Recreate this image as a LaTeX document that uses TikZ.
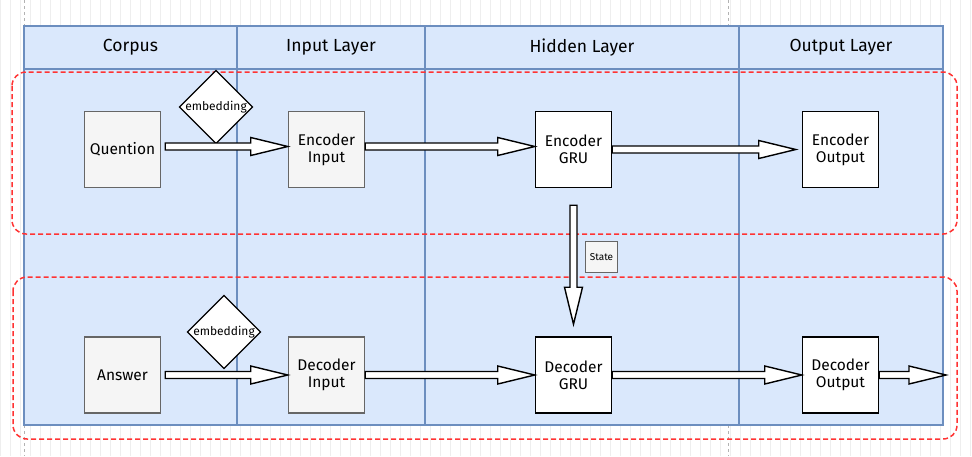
\documentclass[tikz,border=0pt]{standalone}
\usepackage{fontspec}
\setmainfont{Fira Sans}
\usetikzlibrary{calc}
\usetikzlibrary{shapes.geometric}

\definecolor{poolblue}{HTML}{DAE8FC}
\definecolor{poolline}{HTML}{6C8EBF}
\definecolor{dashred}{HTML}{FF3333}
\definecolor{boxgray}{HTML}{F5F5F5}
\definecolor{boxline}{HTML}{666666}
\definecolor{gridgray}{HTML}{EEEEEE}

\newcommand{\blockarrow}[2]{%
    \coordinate (h) at ($(#2)!37pt!(#1)$);
    \draw[bigarrow] ($(#1)!3.5pt!90:(#2)$) -- ($(h)!3.5pt!90:(#2)$)
        -- ($(h)!9pt!90:(#2)$) -- (#2) -- ($(h)!9pt!-90:(#2)$)
        -- ($(h)!3.5pt!-90:(#2)$) -- ($(#1)!3.5pt!-90:(#2)$) -- cycle;
}

\begin{document}
\begin{tikzpicture}[x=1pt, y=-1pt, font=\fontsize{15.5}{17}\selectfont,
    graybox/.style={draw=boxline, fill=boxgray, line width=1.5pt, minimum size=76pt, inner sep=0pt, align=center},
    whitebox/.style={draw=black, fill=white, line width=1.5pt, minimum size=76pt, inner sep=0pt, align=center},
    embed/.style={diamond, draw=black, fill=white, line width=1.2pt, inner sep=0pt, font=\fontsize{12}{13}\selectfont},
    bigarrow/.style={draw=black, fill=white, line width=1.4pt, line join=miter},
    group/.style={draw=dashred, line width=1.5pt, dash pattern=on 5pt off 3pt, rounded corners=14pt},
    lane/.style={draw=poolline, line width=1.6pt},
    head/.style={font=\fontsize{17.5}{19}\selectfont}]

    \useasboundingbox (0,0) rectangle (972,456);

    \draw[gridgray, step=10] (0,0) grid (972,456);
    \draw[gray!60, dashed, thin] (24,0) -- (24,26) (24,425) -- (24,456);
    \draw[gray!60, dashed, thin] (728,0) -- (728,26) (728,425) -- (728,456);

    % pool and lanes
    \filldraw[fill=poolblue, lane] (24,26) rectangle (943,425);
    \draw[lane] (24,69) -- (943,69);
    \foreach \x in {237,425,739}
        \draw[lane] (\x,26) -- (\x,425);

    \node[head] (corpus) at (130.5,47.5) {Corpus};
    \node[head] (inlayer) at (331,47.5) {Input Layer};
    \node[head] (hidlayer) at (582,47.5) {Hidden Layer};
    \node[head] (outlayer) at (841,47.5) {Output Layer};

    \draw[group] (12,72) rectangle (957,234);
    \draw[group] (13,277) rectangle (957,439);

    % encoder row
    \node[graybox] (q) at (122.5,149.5) {Quention};
    \node[graybox] (ein) at (326.5,149.5) {Encoder\\Input};
    \node[whitebox] (egru) at (573.5,149.5) {Encoder\\GRU};
    \node[whitebox] (eout) at (840.5,149.5) {Encoder\\Output};
    \node[embed, minimum size=68pt] (qemb) at (216,107) {embedding};

    % decoder row
    \node[graybox] (a) at (122.5,375) {Answer};
    \node[graybox] (din) at (326.5,375) {Decoder\\Input};
    \node[whitebox] (dgru) at (573.5,375) {Decoder\\GRU};
    \node[whitebox] (dout) at (840.5,375) {Decoder\\Output};
    \node[embed, minimum size=68pt] (aemb) at (224,332) {embedding};

    \node[draw=boxline, fill=boxgray, line width=1.2pt, minimum width=32pt, minimum height=31pt,
        inner sep=0pt, font=\fontsize{10}{11}\selectfont] (state) at (601.5,257) {State};

    \coordinate (s1) at ($(egru.south)+(0,17)$);
    \coordinate (s2) at ($(dgru.north)+(0,-12)$);
    \coordinate (q1) at ($(q.east)+(4,-3)$);
    \coordinate (q2) at ($(ein.west)+(0,-3)$);
    \coordinate (e1) at ($(ein.east)+(0,-3)$);
    \coordinate (e2) at ($(egru.west)+(0,-3)$);
    \coordinate (eo) at ($(eout.west)+(-6,0)$);
    \coordinate (a1) at ($(a.east)+(4,0)$);
    \coordinate (out) at (946,375);

    \blockarrow{q1}{q2}
    \blockarrow{e1}{e2}
    \blockarrow{egru.east}{eo}
    \blockarrow{s1}{s2}
    \blockarrow{a1}{din.west}
    \blockarrow{din.east}{dgru.west}
    \blockarrow{dgru.east}{dout.west}
    \blockarrow{dout.east}{out}

\end{tikzpicture}
\end{document}
